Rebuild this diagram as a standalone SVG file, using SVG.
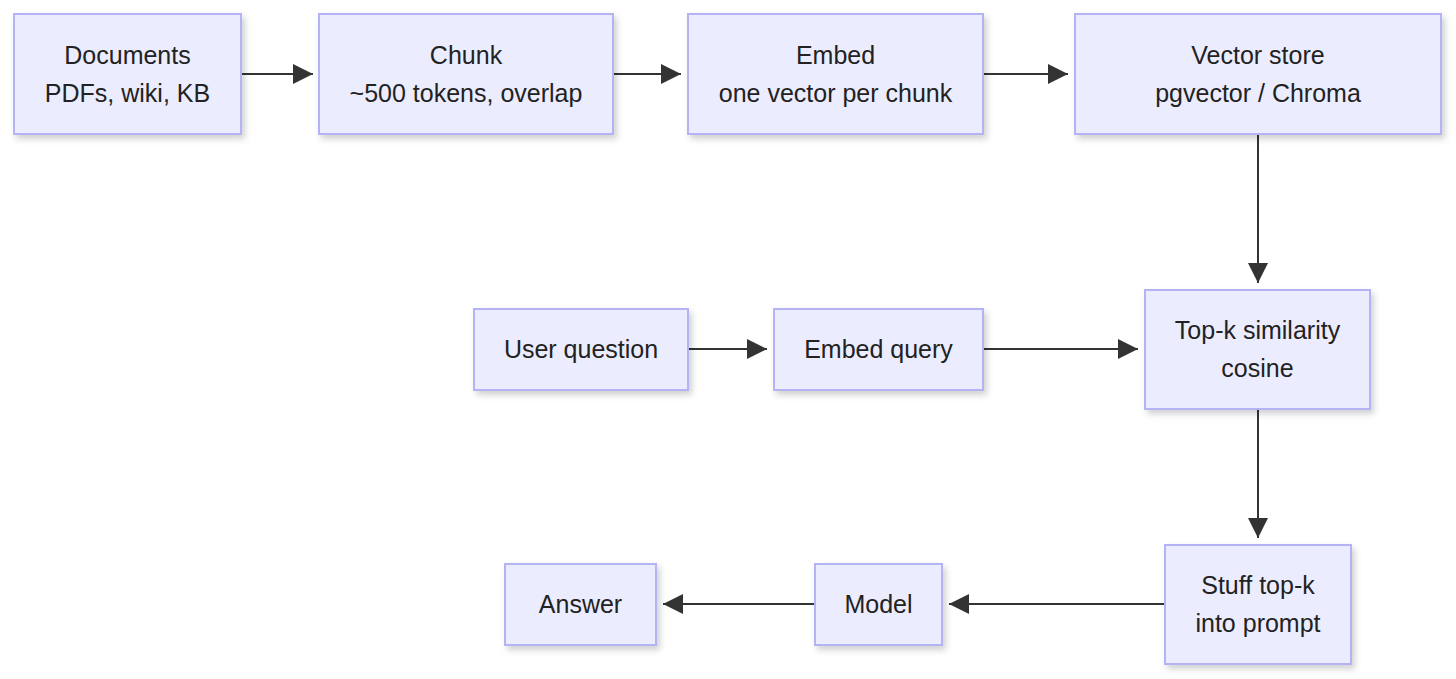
<svg xmlns="http://www.w3.org/2000/svg" width="1456" height="679" viewBox="0 0 1456 679">
<defs>
<filter id="sh" x="-10%" y="-10%" width="130%" height="140%">
<feDropShadow dx="3" dy="4" stdDeviation="3" flood-color="#000" flood-opacity="0.18"/>
</filter>
<marker id="ah" viewBox="0 0 20 20" refX="20" refY="10" markerWidth="20" markerHeight="20" markerUnits="userSpaceOnUse" orient="auto">
<path d="M0,0 L20,10 L0,20 z" fill="#333"/>
</marker>
</defs>
<style>
.n rect{fill:#ECECFF;stroke:#B3B3F5;stroke-width:2;filter:url(#sh)}
.n text{font-family:"Liberation Sans",Arial,sans-serif;font-size:25px;fill:#222;text-anchor:middle}
.e path{stroke:#333;stroke-width:2;fill:none;marker-end:url(#ah)}
</style>
<rect width="1456" height="679" fill="#fff"/>
<g class="e" id="connectors">
<path d="M241,74 H313"/>
<path d="M613,74 H681"/>
<path d="M983,74 H1068"/>
<path d="M1258,134 V283"/>
<path d="M688,349 H767"/>
<path d="M983,349 H1138"/>
<path d="M1258,409 V538"/>
<path d="M1165,604 H949"/>
<path d="M815,604 H663"/>
</g>
<g class="n" id="documents"><rect x="14" y="14" width="227" height="120"/><text x="127.5" y="64">Documents</text><text x="127.5" y="102">PDFs, wiki, KB</text></g>
<g class="n" id="chunk"><rect x="319" y="14" width="294" height="120"/><text x="466" y="64">Chunk</text><text x="466" y="102">~500 tokens, overlap</text></g>
<g class="n" id="embed"><rect x="688" y="14" width="295" height="120"/><text x="835.5" y="64">Embed</text><text x="835.5" y="102">one vector per chunk</text></g>
<g class="n" id="vector-store"><rect x="1075" y="14" width="366" height="120"/><text x="1258" y="64">Vector store</text><text x="1258" y="102">pgvector / Chroma</text></g>
<g class="n" id="topk"><rect x="1145" y="290" width="225" height="119"/><text x="1257.5" y="339">Top-k similarity</text><text x="1257.5" y="377">cosine</text></g>
<g class="n" id="user-question"><rect x="474" y="309" width="214" height="81"/><text x="581" y="358">User question</text></g>
<g class="n" id="embed-query"><rect x="774" y="309" width="209" height="81"/><text x="878.5" y="358">Embed query</text></g>
<g class="n" id="stuff"><rect x="1165" y="545" width="186" height="119"/><text x="1258" y="594">Stuff top-k</text><text x="1258" y="632">into prompt</text></g>
<g class="n" id="model"><rect x="815" y="564" width="127" height="81"/><text x="878.5" y="613">Model</text></g>
<g class="n" id="answer"><rect x="505" y="564" width="151" height="81"/><text x="580.5" y="613">Answer</text></g>
</svg>
